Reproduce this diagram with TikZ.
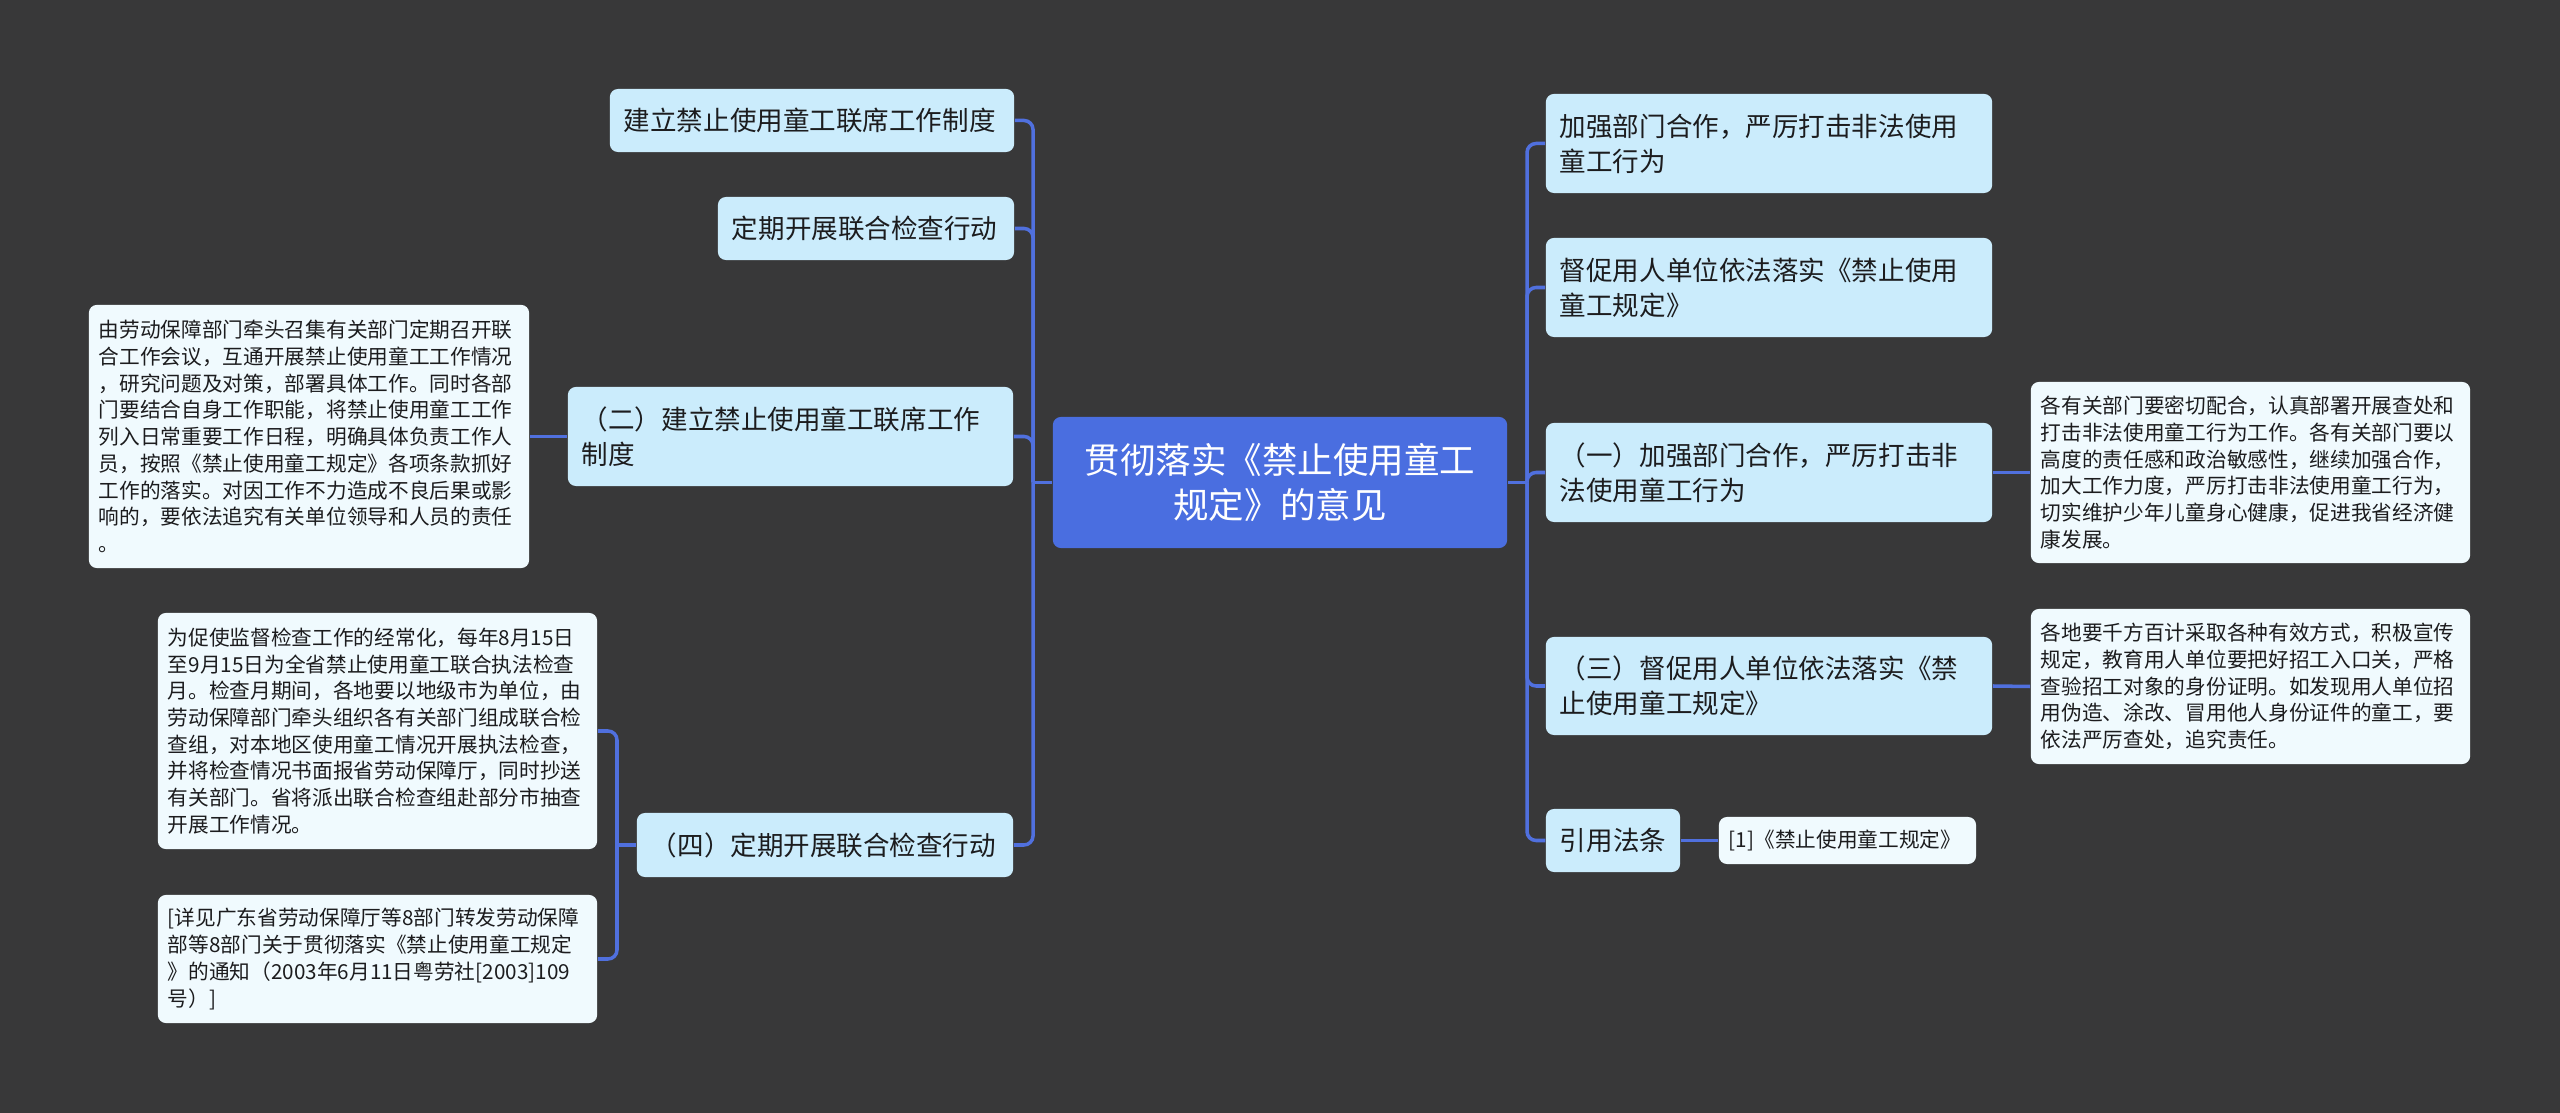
\documentclass[tikz,border=0pt]{standalone}
\usepackage{fontspec}
\newfontfamily\cjk{Noto Sans CJK SC}
\definecolor{bgc}{RGB}{56,56,57}
\definecolor{mainc}{RGB}{74,110,224}
\definecolor{branchc}{RGB}{203,236,252}
\definecolor{leafc}{RGB}{240,250,254}
\definecolor{linec}{RGB}{80,112,222}
\definecolor{txtc}{RGB}{28,28,30}
\begin{document}
\begin{tikzpicture}[x=0.01cm,y=-0.01cm,
  box/.style={rectangle,rounded corners=0.08cm,inner ysep=0pt,text=txtc,anchor=center},
  mainbox/.style={box,fill=mainc,text=white,inner xsep=0.14cm,align=center,
    font=\cjk\fontsize{10.1pt}{12.8pt}\selectfont},
  branch/.style={box,fill=branchc,inner xsep=0.14cm,align=left,
    font=\cjk\fontsize{7.55pt}{9.96pt}\selectfont},
  leaf/.style={box,fill=leafc,inner xsep=0.10cm,align=left,
    font=\cjk\fontsize{5.88pt}{7.6pt}\selectfont},
  conn/.style={draw=linec,line width=1pt,rounded corners=0.09cm}]
\fill[bgc] (0,0) rectangle (2560,1113);
\useasboundingbox (0,0) rectangle (2560,1113);
% central
\node[mainbox,minimum width=4.54cm,minimum height=1.31cm,text width=4.26cm] (c) at (1280,482.5)
  {贯彻落实《禁止使用童工\\规定》的意见};
% left branches
\node[branch,minimum width=4.04cm,minimum height=0.63cm,text width=3.76cm] (l1) at (812,120.5)
  {建立禁止使用童工联席工作制度};
\node[branch,minimum width=2.96cm,minimum height=0.63cm,text width=2.68cm] (l2) at (866,228.5)
  {定期开展联合检查行动};
\node[branch,minimum width=4.45cm,minimum height=0.99cm,text width=4.17cm] (l3) at (790.5,436.5)
  {（二）建立禁止使用童工联席工作\\制度};
\node[branch,minimum width=3.76cm,minimum height=0.64cm,text width=3.48cm] (l4) at (825,845)
  {（四）定期开展联合检查行动};
% left leaves
\node[leaf,minimum width=4.40cm,minimum height=2.63cm,text width=4.20cm] (l3d) at (309,436.5)
  {由劳动保障部门牵头召集有关部门定期召开联\\合工作会议，互通开展禁止使用童工工作情况\\，研究问题及对策，部署具体工作。同时各部\\门要结合自身工作职能，将禁止使用童工工作\\列入日常重要工作日程，明确具体负责工作人\\员，按照《禁止使用童工规定》各项条款抓好\\工作的落实。对因工作不力造成不良后果或影\\响的，要依法追究有关单位领导和人员的责任\\。};
\node[leaf,minimum width=4.39cm,minimum height=2.36cm,text width=4.19cm] (l4a) at (377.5,731)
  {为促使监督检查工作的经常化，每年8月15日\\至9月15日为全省禁止使用童工联合执法检查\\月。检查月期间，各地要以地级市为单位，由\\劳动保障部门牵头组织各有关部门组成联合检\\查组，对本地区使用童工情况开展执法检查，\\并将检查情况书面报省劳动保障厅，同时抄送\\有关部门。省将派出联合检查组赴部分市抽查\\开展工作情况。};
\node[leaf,minimum width=4.39cm,minimum height=1.28cm,text width=4.19cm] (l4b) at (377.5,959)
  {[详见广东省劳动保障厅等8部门转发劳动保障\\部等8部门关于贯彻落实《禁止使用童工规定\\》的通知（2003年6月11日粤劳社[2003]109\\号）]};
% right branches
\node[branch,minimum width=4.46cm,minimum height=0.99cm,text width=4.18cm] (r1) at (1769,143.5)
  {加强部门合作，严厉打击非法使用\\童工行为};
\node[branch,minimum width=4.46cm,minimum height=0.99cm,text width=4.18cm] (r2) at (1769,287.5)
  {督促用人单位依法落实《禁止使用\\童工规定》};
\node[branch,minimum width=4.46cm,minimum height=0.99cm,text width=4.18cm] (r3) at (1769,472.5)
  {（一）加强部门合作，严厉打击非\\法使用童工行为};
\node[branch,minimum width=4.46cm,minimum height=0.98cm,text width=4.18cm] (r4) at (1769,686)
  {（三）督促用人单位依法落实《禁\\止使用童工规定》};
\node[branch,minimum width=1.34cm,minimum height=0.63cm,text width=1.06cm] (r5) at (1613,840.5)
  {引用法条};
% right leaves
\node[leaf,minimum width=4.39cm,minimum height=1.81cm,text width=4.19cm] (r3l) at (2250.5,472.5)
  {各有关部门要密切配合，认真部署开展查处和\\打击非法使用童工行为工作。各有关部门要以\\高度的责任感和政治敏感性，继续加强合作，\\加大工作力度，严厉打击非法使用童工行为，\\切实维护少年儿童身心健康，促进我省经济健\\康发展。};
\node[leaf,minimum width=4.39cm,minimum height=1.55cm,text width=4.19cm] (r4l) at (2250.5,686.5)
  {各地要千方百计采取各种有效方式，积极宣传\\规定，教育用人单位要把好招工入口关，严格\\查验招工对象的身份证明。如发现用人单位招\\用伪造、涂改、冒用他人身份证件的童工，要\\依法严厉查处，追究责任。};
\node[leaf,minimum width=2.57cm,minimum height=0.47cm,text width=2.37cm] (r5l) at (1847.5,840.5)
  {[1]《禁止使用童工规定》};
% connectors
\coordinate (lj) at (1033,482.5);
\coordinate (rj) at (1527,482.5);
\coordinate (bj) at (617,845);
\draw[conn] (c.west) -- (lj);
\draw[conn] (c.east) -- (rj);
\draw[conn] (lj) |- (l1.east);
\draw[conn] (lj) |- (l2.east);
\draw[conn] (lj) |- (l3.east);
\draw[conn] (lj) |- (l4.east);
\draw[conn] (rj) |- (r1.west);
\draw[conn] (rj) |- (r2.west);
\draw[conn] (rj) |- (r3.west);
\draw[conn] (rj) |- (r4.west);
\draw[conn] (rj) |- (r5.west);
\draw[conn] (l3.west) -- (l3d.east);
\draw[conn] (l4.west) -- (bj);
\draw[conn] (bj) |- (l4a.east);
\draw[conn] (bj) |- (l4b.east);
\draw[conn] (r3.east) -- (r3l.west);
\draw[conn] (r4.east) -- (r4l.west);
\draw[conn] (r5.east) -- (r5l.west);
\end{tikzpicture}
\end{document}
